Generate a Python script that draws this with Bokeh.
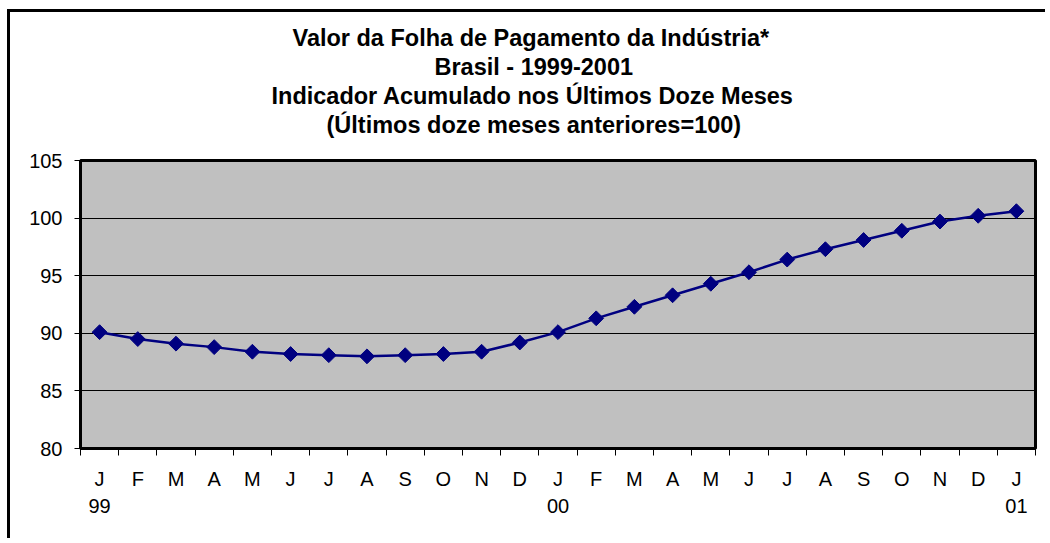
from bokeh.plotting import figure
from bokeh.models import FixedTicker, LinearAxis, Range1d, Title, ColumnDataSource
from bokeh.embed import file_html
from bokeh.resources import INLINE
import numpy as np

# ---- data ----
months = ["J", "F", "M", "A", "M", "J", "J", "A", "S", "O", "N", "D",
          "J", "F", "M", "A", "M", "J", "J", "A", "S", "O", "N", "D", "J"]
year_pos = [0, 12, 24]
year_labels = ["99", "00", "01"]
values = [90.1, 89.5, 89.1, 88.8, 88.4, 88.2, 88.1, 88.0, 88.1, 88.2, 88.4, 89.2,
          90.1, 91.3, 92.3, 93.3, 94.3, 95.3, 96.4, 97.3, 98.1, 98.9, 99.7, 100.2, 100.6]
y_ticks = [80, 85, 90, 95, 100, 105]
title_lines = ["Valor da Folha de Pagamento da Indústria*",
               "Brasil - 1999-2001",
               "Indicador Acumulado nos Últimos Doze Meses",
               "(Últimos doze meses anteriores=100)"]

FONT = "Liberation Sans"
x = list(range(len(values)))
src = ColumnDataSource(dict(x=x, y=values))

p = figure(width=1038, height=529, output_backend="svg", toolbar_location=None,
           x_range=Range1d(-0.5, len(values) - 0.5), y_range=Range1d(80, 105),
           x_axis_location=None, y_axis_location=None,
           min_border_left=70, min_border_right=13, min_border_top=148,
           min_border_bottom=93)
p.title = None
p.styles = {"margin-left": "7px", "margin-top": "9px",
            "border-left": "3px solid black", "border-top": "3px solid black"}

p.background_fill_color = "#C0C0C0"
p.border_fill_color = "white"
p.outline_line_color = "black"
p.outline_line_width = 3

# spacer between titles and the plot frame
p.add_layout(Title(text=" ", text_font=FONT, text_font_size="18px", standoff=0), "above")

# titles (added bottom-up), left aligned with offsets so the block is centred on the chart
title_offsets = [212, 354, 191, 246]
for t, off in reversed(list(zip(title_lines, title_offsets))):
    p.add_layout(Title(text=t, align="left", text_font=FONT, text_font_style="bold",
                       text_font_size="23.5px", text_color="black",
                       standoff=1, offset=off), "above")

# y axis
yax = LinearAxis(ticker=FixedTicker(ticks=y_ticks))
yax.axis_line_color = None
yax.major_tick_in = 0
yax.major_tick_out = 6
yax.major_tick_line_color = "black"
yax.minor_tick_line_color = None
yax.major_label_standoff = 12
yax.major_label_text_font = FONT
yax.major_label_text_font_size = "20px"
yax.major_label_text_color = "black"
p.add_layout(yax, "left")

# month axis
xax = LinearAxis(ticker=FixedTicker(ticks=x, minor_ticks=[i - 0.5 for i in range(len(values) + 1)]))
xax.axis_line_color = None
xax.major_tick_line_color = None
xax.major_tick_in = 0
xax.major_tick_out = 0
xax.minor_tick_in = 0
xax.minor_tick_out = 7
xax.minor_tick_line_color = "black"
xax.major_label_overrides = {i: m for i, m in zip(x, months)}
xax.major_label_standoff = 12
xax.major_label_text_font = FONT
xax.major_label_text_font_size = "20px"
xax.major_label_text_color = "black"
p.add_layout(xax, "below")

# year axis
yrax = LinearAxis(ticker=FixedTicker(ticks=year_pos))
yrax.axis_line_color = None
yrax.major_tick_line_color = None
yrax.minor_tick_line_color = None
yrax.major_tick_in = 0
yrax.major_tick_out = 0
yrax.major_label_overrides = {pos: lab for pos, lab in zip(year_pos, year_labels)}
yrax.major_label_standoff = 6
yrax.major_label_text_font = FONT
yrax.major_label_text_font_size = "20px"
yrax.major_label_text_color = "black"
p.add_layout(yrax, "below")

p.xgrid.visible = False
p.ygrid.ticker = FixedTicker(ticks=y_ticks)
p.ygrid.grid_line_color = "black"
p.ygrid.grid_line_width = 1

p.line("x", "y", source=src, line_color="#000080", line_width=2.5)
p.scatter("x", "y", source=src, marker="square", angle=np.pi / 4, size=10.5,
          fill_color="#000080", line_color="#000080")

open("out.html", "w").write(file_html(p, INLINE))
